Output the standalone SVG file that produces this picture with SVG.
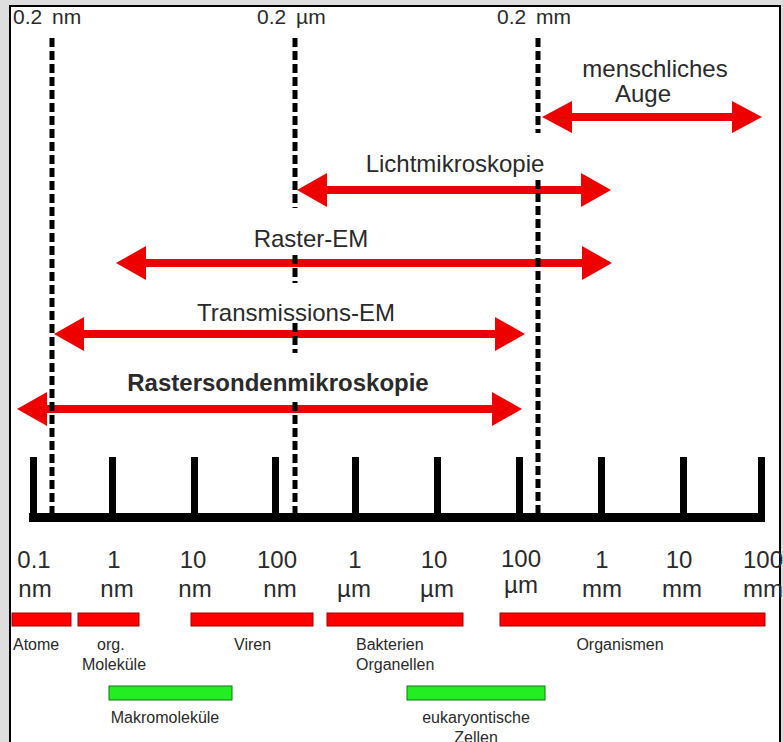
<svg xmlns="http://www.w3.org/2000/svg" width="783" height="742" viewBox="0 0 783 742">
<style>
.t{font-family:"Liberation Sans",Arial,sans-serif;fill:#2a2a2a}
.top{font-size:21px;word-spacing:4px}
.lbl{font-size:24px}
.ax{font-size:24px;text-anchor:middle}
.sm{font-size:16px}
.mid{text-anchor:middle}
.arr{fill:#ee0000}
.dash{stroke:#000;stroke-width:5;stroke-dasharray:9 4;fill:none}
.tick{fill:#000}
.rbar{fill:#ff0000;stroke:#a00000;stroke-width:1}
.gbar{fill:#22ee22;stroke:#117711;stroke-width:1}
</style>
<rect x="0" y="0" width="783" height="742" fill="#dedede"/>
<rect x="10" y="6" width="770" height="740" fill="#fff" stroke="#000" stroke-width="2"/>

<g id="top-labels">
<text class="t top" x="13" y="24">0.2 nm</text>
<text class="t top" x="257" y="24">0.2 µm</text>
<text class="t top" x="497" y="24">0.2 mm</text>
</g>

<g id="arrows">
<g id="auge">
<path class="arr" d="M542,117 L572,101 L572,113 L732,113 L732,101 L762,117 L732,133 L732,121 L572,121 L572,133 Z"/>
<text class="t lbl mid" x="655" y="77">menschliches</text>
<text class="t lbl mid" x="643" y="102">Auge</text>
</g>
<g id="licht">
<path class="arr" d="M297,190 L327,173 L327,186 L581,186 L581,173 L611,190 L581,207 L581,194 L327,194 L327,207 Z"/>
<text class="t lbl mid" x="455" y="172">Lichtmikroskopie</text>
</g>
<g id="raster-em">
<path class="arr" d="M116,263 L146,246 L146,259 L582,259 L582,246 L612,263 L582,280 L582,267 L146,267 L146,280 Z"/>
<text class="t lbl mid" x="311" y="247">Raster-EM</text>
</g>
<g id="transmissions-em">
<path class="arr" d="M54,334 L84,317 L84,330 L495,330 L495,317 L525,334 L495,351 L495,338 L84,338 L84,351 Z"/>
<text class="t lbl mid" x="296" y="321">Transmissions-EM</text>
</g>
<g id="rastersonden">
<path class="arr" d="M17,409 L47,392 L47,405 L492,405 L492,392 L522,409 L492,426 L492,413 L47,413 L47,426 Z"/>
<text class="t lbl mid" x="278" y="391" font-weight="bold" fill="#000">Rastersondenmikroskopie</text>
</g>
</g>

<g id="connectors">
<path class="dash" d="M52,38 V513"/>
<path class="dash" d="M295,38 V208 M295,255 V283 M295,323 V353 M295,402 V513"/>
<path class="dash" d="M538,38 V133 M538,180 V513"/>
</g>

<g id="axis">
<rect class="tick" x="29" y="513" width="736" height="9"/>
<rect class="tick" x="30" y="457" width="7" height="60"/>
<rect class="tick" x="109" y="457" width="7" height="60"/>
<rect class="tick" x="191" y="457" width="7" height="60"/>
<rect class="tick" x="272" y="457" width="7" height="60"/>
<rect class="tick" x="352" y="457" width="7" height="60"/>
<rect class="tick" x="434" y="457" width="7" height="60"/>
<rect class="tick" x="516" y="457" width="7" height="60"/>
<rect class="tick" x="598" y="457" width="7" height="60"/>
<rect class="tick" x="680" y="457" width="7" height="60"/>
<rect class="tick" x="758" y="457" width="7" height="60"/>
</g>

<g id="axis-labels">
<text class="t ax" x="34" y="568">0.1</text>
<text class="t ax" x="114" y="568">1</text>
<text class="t ax" x="193" y="568">10</text>
<text class="t ax" x="277" y="568">100</text>
<text class="t ax" x="355" y="568">1</text>
<text class="t ax" x="434" y="568">10</text>
<text class="t ax" x="521" y="567">100</text>
<text class="t ax" x="602" y="568">1</text>
<text class="t ax" x="679" y="568">10</text>
<text class="t ax" x="763" y="568">100</text>
<text class="t ax" x="35" y="597">nm</text>
<text class="t ax" x="117" y="597">nm</text>
<text class="t ax" x="195" y="597">nm</text>
<text class="t ax" x="280" y="597">nm</text>
<text class="t ax" x="354" y="597">µm</text>
<text class="t ax" x="437" y="597">µm</text>
<text class="t ax" x="521" y="593">µm</text>
<text class="t ax" x="602" y="597">mm</text>
<text class="t ax" x="682" y="597">mm</text>
<text class="t ax" x="763" y="597">mm</text>
</g>

<g id="atome"><rect class="rbar" x="12" y="613" width="59" height="13"/><text class="t sm" x="13" y="650">Atome</text></g>
<g id="org-molekuele"><rect class="rbar" x="78" y="613" width="61" height="13"/><text class="t sm" x="97" y="650">org.</text><text class="t sm" x="82" y="670">Moleküle</text></g>
<g id="viren"><rect class="rbar" x="191" y="613" width="122" height="13"/><text class="t sm" x="234" y="650">Viren</text></g>
<g id="bakterien"><rect class="rbar" x="327" y="613" width="136" height="13"/><text class="t sm" x="356" y="650">Bakterien</text><text class="t sm" x="356" y="670">Organellen</text></g>
<g id="organismen"><rect class="rbar" x="500" y="613" width="265" height="13"/><text class="t sm mid" x="620" y="650">Organismen</text></g>
<g id="makromolekuele"><rect class="gbar" x="109" y="686" width="123" height="14"/><text class="t sm mid" x="165" y="723">Makromoleküle</text></g>
<g id="eukaryonten"><rect class="gbar" x="407" y="686" width="138" height="14"/><text class="t sm mid" x="476" y="723">eukaryontische</text><text class="t sm mid" x="476" y="743">Zellen</text></g>
</svg>
